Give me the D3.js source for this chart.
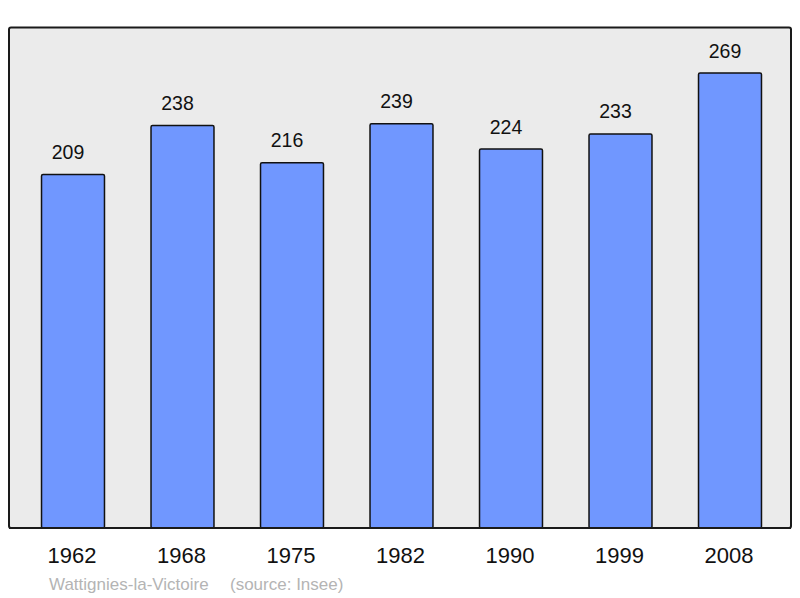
<!DOCTYPE html>
<html>
<head>
<meta charset="utf-8">
<script src="https://cdn.jsdelivr.net/npm/d3@7"></script>
<style>
  body { margin: 0; background: #fff; }
  text { font-family: "Liberation Sans", Arial, sans-serif; }
</style>
</head>
<body>
<div id="chart"></div>
<script>
// population per census year
var years = ["1962", "1968", "1975", "1982", "1990", "1999", "2008"]
var population = [209, 238, 216, 239, 224, 233, 269]
var place = "Wattignies-la-Victoire"
var source = "(source: Insee)"

var width = 800
height = 598

var svg = d3.select("#chart")
  .append("svg")
  .attr("width", width)
  .attr("height", height);

// grey panel
svg.append("rect")
  .attr("x", 9)
  .attr("y", 27.5)
  .attr("width", 782)
  .attr("height", 500.5)
  .attr("rx", 2)
  .attr("fill", "#ebebeb")
  .attr("stroke", "#1a1a1a")
  .attr("stroke-width", 2);

var x = d3.scaleBand()
  .domain(years)
  .range([18.25, 784.75])
  .paddingInner(0.425)
  .paddingOuter(0.2125);

var y = d3.scaleLinear()
  .domain([0, d3.max(population) * 1.1])
  .range([528, 27.5]);

var rows = years.map(function (yr, i) { return { year: yr, value: population[i] }; });

svg.selectAll("rect.bar")
  .data(rows)
  .enter()
  .append("rect")
  .attr("class", "bar")
  .attr("x", function (d) { return x(d.year); })
  .attr("y", function (d) { return y(d.value); })
  .attr("width", x.bandwidth())
  .attr("height", function (d) { return y(0) - y(d.value); })
  .attr("rx", 1.5)
  .attr("fill", "#7097ff")
  .attr("stroke", "#111")
  .attr("stroke-width", 1.5);

// value above each bar (sits a little left of centre in the original)
svg.selectAll("text.val")
  .data(rows)
  .enter()
  .append("text")
  .attr("class", "val")
  .attr("x", function (d) { return x(d.year) + x.bandwidth() / 2 - 5; })
  .attr("y", function (d) { return y(d.value) - 15.5; })
  .attr("text-anchor", "middle")
  .style("font-size", "19.5px")
  .attr("fill", "#111")
  .text(function (d) { return d.value; });

// redraw panel bottom edge over bars
svg.append("line")
  .attr("x1", 9).attr("x2", 791)
  .attr("y1", 528).attr("y2", 528)
  .attr("stroke", "#1a1a1a")
  .attr("stroke-width", 2);

// year labels
svg.selectAll("text.year")
  .data(years)
  .enter()
  .append("text")
  .attr("class", "year")
  .attr("x", function (d) { return x(d) + x.bandwidth() / 2 - 1; })
  .attr("y", 563)
  .attr("text-anchor", "middle")
  .style("font-size", "22px")
  .attr("fill", "#111")
  .text(function (d) { return d; });

svg.append("text")
  .attr("x", 49)
  .attr("y", 590)
  .style("font-size", "17px")
  .attr("fill", "#b4b4b4")
  .text(place);

svg.append("text")
  .attr("x", 230)
  .attr("y", 590)
  .style("font-size", "17px")
  .attr("fill", "#b4b4b4")
  .text(source);
</script>
</body>
</html>
